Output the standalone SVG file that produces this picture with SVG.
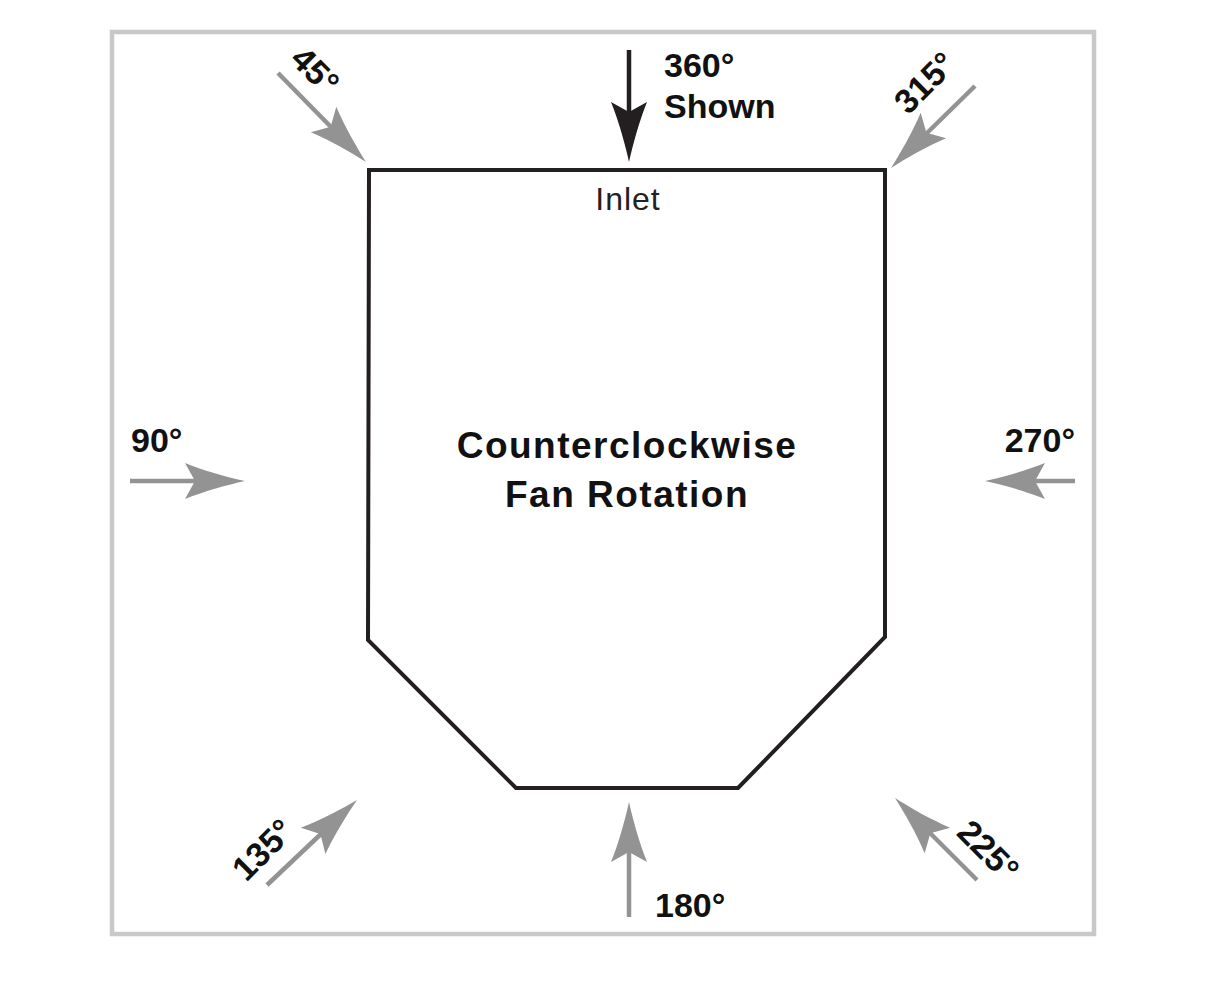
<svg xmlns="http://www.w3.org/2000/svg" xmlns:xlink="http://www.w3.org/1999/xlink" width="1221" height="993" viewBox="0 0 1221 993">
<style>
.frame{fill:none;stroke:#c8c8cb;stroke-width:4.5}
.body{fill:#fff;stroke:#231f20;stroke-width:4;stroke-linejoin:miter}
.shaft{stroke:#939393;stroke-width:4.5;fill:none}
.gray{fill:#939393}
.black{fill:#231f20}
.shaftk{stroke:#231f20;stroke-width:4.5;fill:none}
.lbl{font-family:"Liberation Sans",Arial,sans-serif;font-weight:bold;font-size:34px;fill:#111}
.ttl{font-family:"Liberation Sans",Arial,sans-serif;font-weight:bold;font-size:37px;letter-spacing:1.5px;fill:#111}
.inlet{font-family:"Liberation Sans",Arial,sans-serif;font-size:32px;letter-spacing:1px;fill:#222}
</style>
<defs>
<path id="head" d="M0,0 C-18,-4 -40,-10 -60,-18 L-50,0 L-60,18 C-40,10 -18,4 0,0 Z"/>
</defs>
<rect class="frame" x="112" y="32" width="982" height="902"/>
<g id="fan">
<polygon class="body" points="369,170 885,170 885,637 738,788 516,788 368,640"/>
<text class="inlet" x="628" y="210" text-anchor="middle">Inlet</text>
<text class="ttl" x="627" y="458" text-anchor="middle">Counterclockwise</text>
<text class="ttl" x="627" y="507" text-anchor="middle">Fan Rotation</text>
</g>
<g id="connectors">
<g id="a360">
<line class="shaftk" x1="629" y1="50" x2="629" y2="115"/>
<use xlink:href="#head" class="black" transform="translate(629,162) rotate(90)"/>
</g>
<g id="a45">
<line class="shaft" x1="278" y1="73" x2="331" y2="127"/>
<use xlink:href="#head" class="gray" transform="translate(366,162) rotate(45)"/>
</g>
<g id="a315">
<line class="shaft" x1="975" y1="86" x2="926" y2="134"/>
<use xlink:href="#head" class="gray" transform="translate(891,168) rotate(135)"/>
</g>
<g id="a90">
<line class="shaft" x1="130" y1="481" x2="198" y2="481"/>
<use xlink:href="#head" class="gray" transform="translate(245,481)"/>
</g>
<g id="a270">
<line class="shaft" x1="1075" y1="481" x2="1032" y2="481"/>
<use xlink:href="#head" class="gray" transform="translate(985,481) rotate(180)"/>
</g>
<g id="a180">
<line class="shaft" x1="629" y1="917" x2="629" y2="850"/>
<use xlink:href="#head" class="gray" transform="translate(629,802) rotate(-90)"/>
</g>
<g id="a135">
<line class="shaft" x1="267" y1="885" x2="322" y2="833"/>
<use xlink:href="#head" class="gray" transform="translate(357,800) rotate(-43)"/>
</g>
<g id="a225">
<line class="shaft" x1="977" y1="880" x2="929" y2="832"/>
<use xlink:href="#head" class="gray" transform="translate(895,798) rotate(-135)"/>
</g>
</g>
<g id="labels">
<text class="lbl" text-anchor="middle" transform="translate(307,79) rotate(45)">45°</text>
<text class="lbl" x="664" y="77">360°</text>
<text class="lbl" x="664" y="118">Shown</text>
<text class="lbl" text-anchor="middle" transform="translate(933,91) rotate(-45)">315°</text>
<text class="lbl" x="131" y="452">90°</text>
<text class="lbl" x="1075" y="452" text-anchor="end">270°</text>
<text class="lbl" text-anchor="middle" transform="translate(271,858) rotate(-45)">135°</text>
<text class="lbl" text-anchor="middle" transform="translate(980,859) rotate(45)">225°</text>
<text class="lbl" x="655" y="917">180°</text>
</g>
</svg>
